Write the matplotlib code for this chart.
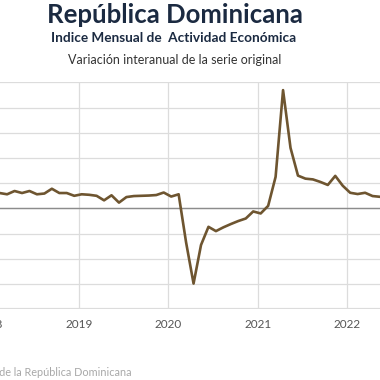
import matplotlib
matplotlib.use("Agg")
import matplotlib.pyplot as plt
import numpy as np

# Monthly year-over-year variation (%), Jan 2018 .. Jun 2022
start_year = 2018
values = [
    6.0, 6.1, 5.6, 6.9, 6.1, 6.9, 5.6, 5.9, 7.8, 6.1, 6.1, 5.0,      # 2018
    5.6, 5.4, 5.0, 3.2, 5.2, 2.3, 4.5, 4.9, 5.0, 5.1, 5.3, 6.3,      # 2019
    4.7, 5.6, -13.5, -29.8, -14.5, -7.3, -9.0, -7.5, -6.2, -5.0, -4.0, -1.2,  # 2020
    -2.0, 1.0, 12.5, 46.9, 24.0, 13.0, 11.8, 11.5, 10.5, 9.3, 12.9, 9.0,  # 2021
    6.2, 5.7, 6.2, 4.9, 4.6, 5.0,                                     # 2022
]
year_ticks = [2018, 2019, 2020, 2021, 2022]
y_ticks = [-40, -30, -20, -10, 0, 10, 20, 30, 40, 50]

title = "República Dominicana"
subtitle = "Indice Mensual de  Actividad Económica"
subtitle2 = "Variación interanual de la serie original"
source = "Fuente: Banco Central de la República Dominicana"

x = start_year + (np.arange(len(values)) + 0.4) / 12.0

W, H = 380, 380
fig = plt.figure(figsize=(W / 100, H / 100), dpi=100)
plt.rcParams['font.family'] = ['Lato', 'DejaVu Sans']

# axes placement in pixels (extends past left/right edge like the reference crop)
xmin, xmax = 2018.0, 2022.5
px_per_year = 89.5
left_px = 78.7 - px_per_year * (2019 - xmin)
right_px = 78.7 + px_per_year * (xmax - 2019)
top_px, bottom_px = 82.3, 309.3
ax = fig.add_axes([left_px / W, 1 - bottom_px / H, (right_px - left_px) / W, (bottom_px - top_px) / H])
ax.set_xlim(xmin, xmax)
ax.set_ylim(-40, 50)

ax.set_yticks(y_ticks)
ax.set_xticks(year_ticks)
ax.set_xticklabels([str(y) for y in year_ticks])
ax.grid(True, color="#dcdcdc", linewidth=0.9)
ax.set_axisbelow(True)
for s in ax.spines.values():
    s.set_visible(False)
ax.axhline(-40, color="#dcdcdc", linewidth=1.6, zorder=1)
ax.axhline(0, color="#8c8c8c", linewidth=1.0, zorder=2)
ax.tick_params(axis="both", length=0)
ax.tick_params(axis="x", labelsize=8.5, colors="#555555", pad=7)
ax.tick_params(axis="y", labelleft=False)

ax.plot(x, values, color="#6e5530", linewidth=1.9, solid_joinstyle="round",
        solid_capstyle="round", zorder=3)

fig.text(175 / W, 1 - 15 / H, title, ha="center", va="center", fontsize=18.5,
         fontweight="bold", color="#1b2a41")
fig.text(174 / W, 1 - 38 / H, subtitle, ha="center", va="center", fontsize=9.8,
         fontweight="bold", color="#1b2a41")
fig.text(175 / W, 1 - 60 / H, subtitle2, ha="center", va="center", fontsize=9.0,
         color="#333333")
fig.text(132 / W, 1 - 373 / H, source, ha="right", va="center", fontsize=7.8,
         color="#a8a8a8")

fig.savefig("out.png", dpi=100)
